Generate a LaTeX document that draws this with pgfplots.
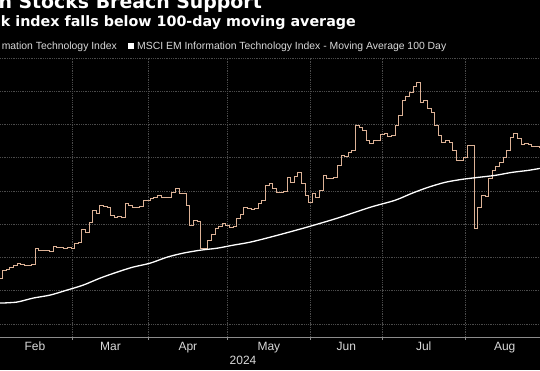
\documentclass[border=0pt]{standalone}
\usepackage{fontspec}
\usepackage{pgfplots}
\pgfplotsset{compat=1.18}
\setmainfont{Liberation Sans}
\newfontfamily\titlefont{DejaVu Sans}
\newfontfamily\condfont{Liberation Sans}
\definecolor{barc}{HTML}{DDB296}
\definecolor{gridc}{HTML}{4A4A4A}
\definecolor{lbl}{HTML}{D9D9D9}
\definecolor{axc}{HTML}{8C8C8C}
\begin{document}
\begin{tikzpicture}[x=1pt,y=1pt]
\useasboundingbox (0,0) rectangle (540,370);
\fill[black] (0,0) rectangle (540,370);
\clip (0,0) rectangle (540,370);
\node[anchor=base east, text=white, font=\titlefont\bfseries\fontsize{18.9}{18.9}\selectfont, inner sep=0] at (262,361.7) {n Stocks Breach Support};
\node[anchor=base east, text=white, font=\titlefont\bfseries\fontsize{14.3}{14.3}\selectfont, inner sep=0] at (356,343.3) {k index falls below 100-day moving average};
\node[anchor=base east, text=lbl, font=\condfont\fontsize{10.4}{10.4}\selectfont, inner sep=0] at (117,320.7) {mation Technology Index};
\fill[white] (127.7,320.7) rectangle (134.3,327.4);
\node[anchor=base west, text=lbl, font=\condfont\fontsize{10.4}{10.4}\selectfont, inner sep=0] at (137,320.7) {MSCI EM Information Technology Index - Moving Average 100 Day};
\begin{axis}[
  at={(0pt,33pt)}, anchor=south west, scale only axis,
  width=540pt, height=279pt,
  xmin=0.806, xmax=150.81, ymin=532.2, ymax=700,
  axis x line*=bottom, axis y line*=left,
  y axis line style={draw=none},
  x axis line style={color=axc, line width=0.8pt},
  xtick={21,42,64,87,107,130}, xticklabels={},
  tick align=outside, major tick length=3pt,
  xtick style={color=axc, line width=0.6pt},
  ytick={540,560,...,700}, yticklabels={}, ytick style={draw=none},
  grid=major, grid style={gridc, dash pattern=on 1pt off 0.8pt, line width=0.6pt},
  extra x ticks={10.5,31.5,53,75.5,97,118.5,141},
  extra x tick labels={Feb,Mar,Apr,May,Jun,Jul,Aug},
  extra x tick style={major tick length=0pt, grid=none,
    tick label style={anchor=base, yshift=-13pt, text=lbl, font=\condfont\fontsize{12}{12}\selectfont}},
  clip=true,
]
\addplot[const plot mark mid, color=barc, line width=0.6pt] table {
x y
0 566.4
1 567.6
2 572.4
3 573.0
4 574.2
5 575.4
6 576.6
7 576.0
8 575.4
9 575.4
10 576.0
11 585.6
12 584.4
13 584.4
14 584.4
15 583.8
16 586.8
17 586.2
18 586.2
19 585.6
20 586.2
21 585.6
22 588.6
23 589.2
24 597.0
25 595.2
26 601.2
27 608.4
28 606.6
29 611.4
30 610.8
31 610.2
32 605.4
33 604.2
34 604.8
35 604.2
36 612.6
37 611.4
38 610.2
39 610.2
40 610.8
41 614.4
42 614.4
43 615.6
44 616.2
45 617.4
46 616.2
47 616.2
48 616.2
49 619.2
50 621.6
51 618.6
52 618.6
53 611.4
54 599.4
55 602.4
56 601.8
57 585.6
58 585.6
59 590.4
60 594.0
61 597.6
62 598.8
63 600.6
64 599.4
65 598.2
66 598.8
67 603.6
68 606.0
69 610.2
70 609.6
71 609.0
72 609.6
73 612.6
74 614.4
75 623.4
76 624.6
77 621.6
78 619.2
79 619.2
80 619.8
81 628.2
82 625.2
83 628.8
84 631.2
85 624.6
86 617.4
87 613.2
88 618.6
89 616.2
90 620.4
91 629.4
92 627.6
93 627.6
94 628.2
95 635.4
96 641.4
97 640.8
98 643.2
99 644.4
100 659.4
101 658.2
102 656.4
103 650.4
104 648.6
105 650.4
106 650.4
107 654.0
108 654.6
109 652.8
110 653.4
111 659.4
112 665.4
113 674.4
114 676.8
115 679.2
116 682.8
117 685.2
118 673.2
119 674.4
120 669.6
121 667.2
122 659.4
123 653.4
124 649.2
125 650.4
126 649.2
127 644.4
128 638.4
129 638.4
130 640.2
131 647.4
132 647.4
133 597.6
134 610.2
135 617.4
136 616.8
137 627.6
138 632.4
139 634.8
140 637.2
141 640.2
142 644.4
143 652.2
144 654.6
145 651.6
146 648.0
147 648.6
148 648.0
149 646.8
150 646.8
151 646.2
};
\addplot[white, line width=1.3pt, smooth] table {
x y
0.8 552.6
5.5 553.2
10.0 555.6
14.7 557.4
19.4 560.4
23.9 563.4
28.6 567.6
33.3 571.2
37.7 574.2
42.5 576.6
47.2 580.2
51.6 582.6
56.4 584.4
61.1 585.6
65.5 587.4
70.2 589.2
75.8 592.2
85.0 597.6
94.4 603.6
103.6 610.2
110.5 614.4
115.2 618.6
119.7 622.2
124.4 625.2
129.1 627.0
133.6 628.2
138.3 629.4
143.0 631.2
147.5 632.4
150.8 633.6
};
\end{axis}
\node[anchor=base, text=lbl, font=\condfont\fontsize{12}{12}\selectfont, inner sep=0] at (243,5.7) {2024};
\end{tikzpicture}
\end{document}
